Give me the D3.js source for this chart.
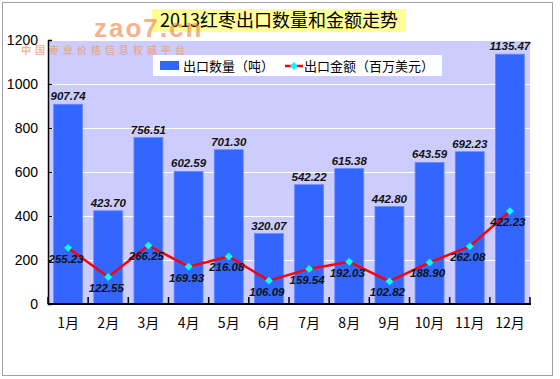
<!DOCTYPE html>
<html><head><meta charset="utf-8">
<script src="https://cdn.jsdelivr.net/npm/d3@7"></script>
<style>body{margin:0;background:#fff}svg{display:block}</style>
</head><body>
<script>
const months = ["1月","2月","3月","4月","5月","6月","7月","8月","9月","10月","11月","12月"];
const quantity = [907.74,423.70,756.51,602.59,701.30,320.07,542.22,615.38,442.80,643.59,692.23,1135.47];
const amount = [255.23,122.55,266.25,169.93,216.08,106.09,159.54,192.03,102.82,188.90,262.08,422.23];
const yTicks = [0,200,400,600,800,1000,1200];
const title = "2013红枣出口数量和金额走势";
const legendLabels = ["出口数量（吨）","出口金额（百万美元）"];

const W=560,H=379;
const svg=d3.select("body").append("svg").attr("width",W).attr("height",H);
const cjk="'Noto Sans CJK SC','Noto Sans',sans-serif";

// outer border
svg.append("rect").attr("x",2.5).attr("y",2.5).attr("width",550).attr("height",373)
  .attr("fill","#fff").attr("stroke","#a0a0a0").attr("stroke-width",1);

const L=48,R=530,T=41,B=304;
const x=d3.scaleBand().domain(months).range([L,R]).paddingInner(0.28).paddingOuter(0.14);
const xb=d3.scaleBand().domain(months).range([L,R]);
const y=d3.scaleLinear().domain([0,1200]).range([B,40]);

// plot bg
svg.append("rect").attr("x",L).attr("y",T).attr("width",R-L).attr("height",B-T).attr("fill","#CCCCFF");
// gridlines
svg.append("g").selectAll("line").data(yTicks.filter(d=>d>0)).join("line")
  .attr("x1",L).attr("x2",R).attr("y1",d=>Math.round(y(d))+0.5).attr("y2",d=>Math.round(y(d))+0.5)
  .attr("stroke","#fff").attr("stroke-width",1.2);

// bars
svg.append("g").selectAll("rect").data(quantity).join("rect")
  .attr("x",(d,i)=>x(months[i])).attr("width",x.bandwidth())
  .attr("y",d=>y(d)).attr("height",d=>B-y(d))
  .attr("fill","#3366FF").attr("stroke","#6688ff").attr("stroke-width",0.8);

// bar labels
svg.append("g").selectAll("text").data(quantity).join("text")
  .attr("x",(d,i)=>x(months[i])+x.bandwidth()/2).attr("y",d=>y(d)-4)
  .attr("text-anchor","middle").attr("font-family","Arial, 'Liberation Sans', sans-serif")
  .attr("font-size",11.5).attr("font-weight","bold").attr("font-style","italic").attr("fill","#111")
  .text(d=>d.toFixed(2));

// axes
const ax=svg.append("g").attr("transform",`translate(0,${B})`)
  .call(d3.axisBottom(xb).tickSize(0).tickPadding(14));
ax.select(".domain").remove();
ax.selectAll("text").attr("font-family",cjk).attr("font-size",14).attr("fill","#000");
// x axis line and ticks
svg.append("line").attr("x1",L).attr("x2",R+1).attr("y1",B).attr("y2",B).attr("stroke","#000").attr("stroke-width",2);
svg.append("g").selectAll("line").data(d3.range(13)).join("line")
  .attr("x1",i=>L+i*xb.bandwidth()).attr("x2",i=>L+i*xb.bandwidth())
  .attr("y1",B-7).attr("y2",B).attr("stroke","#000").attr("stroke-width",1.5);
// y axis
const ay=svg.append("g").attr("transform",`translate(${L},0)`)
  .call(d3.axisLeft(y).tickValues(yTicks).tickSize(-4).tickPadding(10).tickFormat(d3.format("d")));
ay.select(".domain").attr("stroke","#000").attr("stroke-width",1.5);
ay.selectAll(".tick line").attr("stroke","#000");
ay.selectAll("text").attr("font-family","Arial, 'Liberation Sans', sans-serif").attr("font-size",14).attr("fill","#000");

// line
const cx=i=>xb(months[i])+xb.bandwidth()/2;
svg.append("path").datum(amount)
  .attr("d",d3.line().x((d,i)=>cx(i)).y(d=>y(d)))
  .attr("fill","none").attr("stroke","#FF0000").attr("stroke-width",2.5);
svg.append("g").selectAll("path").data(amount).join("path")
  .attr("d",d3.symbol(d3.symbolDiamond2,40))
  .attr("transform",(d,i)=>`translate(${cx(i)},${y(d)})`).attr("fill","#00FFFF");
svg.append("g").selectAll("text").data(amount).join("text")
  .attr("x",(d,i)=>cx(i)-2).attr("y",d=>y(d)+15)
  .attr("text-anchor","middle").attr("font-family","Arial, 'Liberation Sans', sans-serif")
  .attr("font-size",11.5).attr("font-weight","bold").attr("font-style","italic").attr("fill","#111")
  .text(d=>d.toFixed(2));

// title
svg.append("rect").attr("x",152).attr("y",9).attr("width",254).attr("height",23).attr("fill","#FFFF99");
svg.append("text").attr("x",279).attr("y",27).attr("text-anchor","middle")
  .attr("font-family",cjk).attr("font-size",18).attr("fill","#000").text(title);

// watermark
svg.append("text").attr("x",94).attr("y",37).attr("font-family","Arial, 'Liberation Sans', sans-serif")
  .attr("font-weight","bold").attr("font-size",26).attr("fill","#F08040").attr("opacity",0.6)
  .attr("letter-spacing",2).text("zao7.cn");
svg.append("text").attr("x",21).attr("y",54).attr("font-family",cjk)
  .attr("font-size",10).attr("font-weight","bold").attr("fill","#F0A070").attr("opacity",0.75)
  .attr("letter-spacing",4).text("中国枣业价格信息权威平台");

// legend
svg.append("rect").attr("x",153).attr("y",55).attr("width",289).attr("height",21).attr("fill","#fff");
svg.append("rect").attr("x",160).attr("y",61).attr("width",19).attr("height",9).attr("fill","#3366FF");
svg.append("text").attr("x",183).attr("y",71).attr("font-family",cjk).attr("font-size",13).text(legendLabels[0]);
svg.append("line").attr("x1",285).attr("x2",303).attr("y1",66).attr("y2",66).attr("stroke","#FF0000").attr("stroke-width",2.5);
svg.append("path").attr("d",d3.symbol(d3.symbolDiamond2,40)).attr("transform","translate(294,66)").attr("fill","#00FFFF");
svg.append("text").attr("x",304).attr("y",71).attr("font-family",cjk).attr("font-size",13).text(legendLabels[1]);
</script>
</body></html>
